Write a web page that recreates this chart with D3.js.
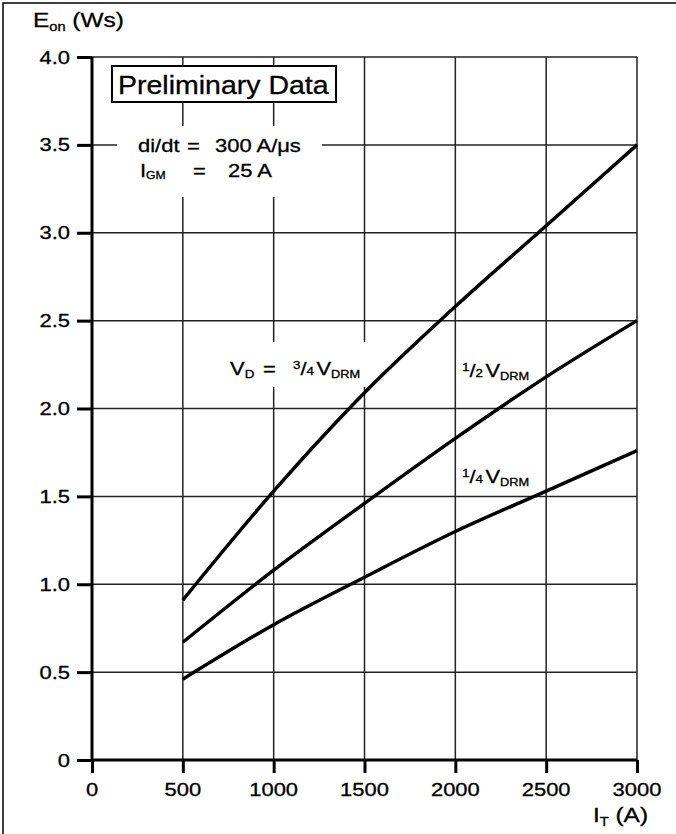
<!DOCTYPE html>
<html>
<head>
<meta charset="utf-8">
<script src="https://cdn.jsdelivr.net/npm/d3@7"></script>
<style>
  body { margin: 0; background: #fff; }
  text { font-family: "Liberation Sans", Arial, sans-serif; fill: #000; stroke: #000; stroke-width: 0.3px; }
</style>
</head>
<body>
<svg id="svg"></svg>
<script>
// values
const currents = [500, 1000, 1500, 2000, 2500, 3000];
const eon34 = [0.91, 1.53, 2.09, 2.58, 3.04, 3.50];   // V_D = 3/4 V_DRM
const eon12 = [0.67, 1.08, 1.46, 1.83, 2.18, 2.50];   // 1/2 V_DRM
const eon14 = [0.46, 0.77, 1.04, 1.30, 1.53, 1.76];   // 1/4 V_DRM
const xTicks = [0, 500, 1000, 1500, 2000, 2500, 3000];
const yTicks = [0, 0.5, 1.0, 1.5, 2.0, 2.5, 3.0, 3.5, 4.0];

const width = 676;
const height = 834;
const sx = 1.22; // the original lettering is wide

const svg = d3.select("#svg")
  .attr("width", width)
  .attr("height", height);

const x = d3.scaleLinear().domain([0, 3000]).range([92, 637]);
const y = d3.scaleLinear().domain([0, 4]).range([760, 57]);

// helper for wide text
function label(px, py, size, scale, anchor) {
  return svg.append("text")
    .attr("transform", `translate(${px},${py}) scale(${scale},1)`)
    .attr("font-size", size)
    .attr("text-anchor", anchor || "start");
}

// page frame
svg.append("path")
  .attr("d", `M3,${height} V3 H${width}`)
  .attr("fill", "none")
  .attr("stroke", "#000")
  .attr("stroke-width", 1.5);

// grid
svg.append("g").selectAll("line")
  .data(yTicks.filter(d => d > 0))
  .enter().append("line")
  .attr("x1", x(0)).attr("x2", x(3000))
  .attr("y1", d => y(d)).attr("y2", d => y(d))
  .attr("stroke", "#222").attr("stroke-width", 1.5);

svg.append("g").selectAll("line")
  .data(xTicks.filter(d => d > 0))
  .enter().append("line")
  .attr("x1", d => x(d)).attr("x2", d => x(d))
  .attr("y1", y(0)).attr("y2", y(4))
  .attr("stroke", "#222").attr("stroke-width", 1.5);

// white patches under the annotations
svg.append("rect").attr("x", 117).attr("y", 126).attr("width", 205).attr("height", 71).attr("fill", "#fff");
svg.append("rect").attr("x", 215).attr("y", 342).attr("width", 155).attr("height", 45).attr("fill", "#fff");

// axes
const yAxis = svg.append("g")
  .attr("transform", `translate(${x(0)},0)`)
  .call(d3.axisLeft(y).tickValues(yTicks).tickSize(15).tickFormat(""));
const xAxis = svg.append("g")
  .attr("transform", `translate(0,${y(0)})`)
  .call(d3.axisBottom(x).tickValues(xTicks).tickSize(13).tickFormat(""));
[yAxis, xAxis].forEach(a => {
  a.select(".domain").attr("d", null);
  a.selectAll(".tick line").attr("stroke-width", 3);
});
svg.append("line")
  .attr("x1", x(0)).attr("x2", x(0)).attr("y1", y(0) + 1.5).attr("y2", y(4))
  .attr("stroke", "#000").attr("stroke-width", 3);
svg.append("line")
  .attr("x1", x(0)).attr("x2", x(3000)).attr("y1", y(0)).attr("y2", y(0))
  .attr("stroke", "#000").attr("stroke-width", 3);

// tick labels
yTicks.forEach(d => {
  label(70, y(d) + 6.5, 18, sx, "end").text(d === 0 ? "0" : d.toFixed(1));
});
xTicks.forEach(d => {
  label(x(d), 796, 18, sx, "middle").text(d);
});

// axis titles
const yTitle = label(33, 27, 20, sx);
yTitle.append("tspan").text("E");
yTitle.append("tspan").attr("font-size", 12).attr("dy", 4).text("on");
yTitle.append("tspan").attr("dy", -4).text(" (Ws)");

const xTitle = label(593, 822, 20, sx);
xTitle.append("tspan").text("I");
xTitle.append("tspan").attr("font-size", 12).attr("dy", 4).text("T");
xTitle.append("tspan").attr("dy", -4).text(" (A)");

// curves
const line = d3.line()
  .x(d => x(d[0]))
  .y(d => y(d[1]))
  .curve(d3.curveMonotoneX);

[eon34, eon12, eon14].forEach(series => {
  svg.append("path")
    .datum(currents.map((c, i) => [c, series[i]]))
    .attr("d", line)
    .attr("fill", "none")
    .attr("stroke", "#000")
    .attr("stroke-width", 3.5);
});

// "Preliminary Data" box
svg.append("rect")
  .attr("x", 112).attr("y", 66).attr("width", 224).attr("height", 36)
  .attr("fill", "#fff").attr("stroke", "#000").attr("stroke-width", 2);
label(118, 94, 25, 1.14).text("Preliminary Data");

// test conditions
label(138, 152, 18, sx).text("di/dt");
label(187, 152, 18, sx).text("=");
label(215, 152, 18, sx).text("300 A/\u03bcs");
const igm = label(140, 177, 18, sx);
igm.append("tspan").text("I");
igm.append("tspan").attr("font-size", 10).attr("dy", 2).text("GM");
label(193, 177, 18, sx).text("=");
label(228, 177, 18, sx).text("25 A");

// curve labels
function fraction(px, py, num, den) {
  const t = label(px, py, 18, sx);
  t.append("tspan").attr("font-size", 11).attr("dy", -6).text(num);
  t.append("tspan").attr("dy", 6).text("/");
  t.append("tspan").attr("font-size", 11).text(den);
  t.append("tspan").attr("dx", 2).text("V");
  t.append("tspan").attr("font-size", 10.5).attr("dy", 3).text("DRM");
  return t;
}
const vd = label(230, 375, 18, sx);
vd.append("tspan").text("V");
vd.append("tspan").attr("font-size", 11).attr("dy", 3).text("D");
label(263, 375, 18, sx).text("=");
fraction(293, 375, "3", "4");
fraction(462, 377, "1", "2");
fraction(462, 483, "1", "4");
</script>
</body>
</html>
